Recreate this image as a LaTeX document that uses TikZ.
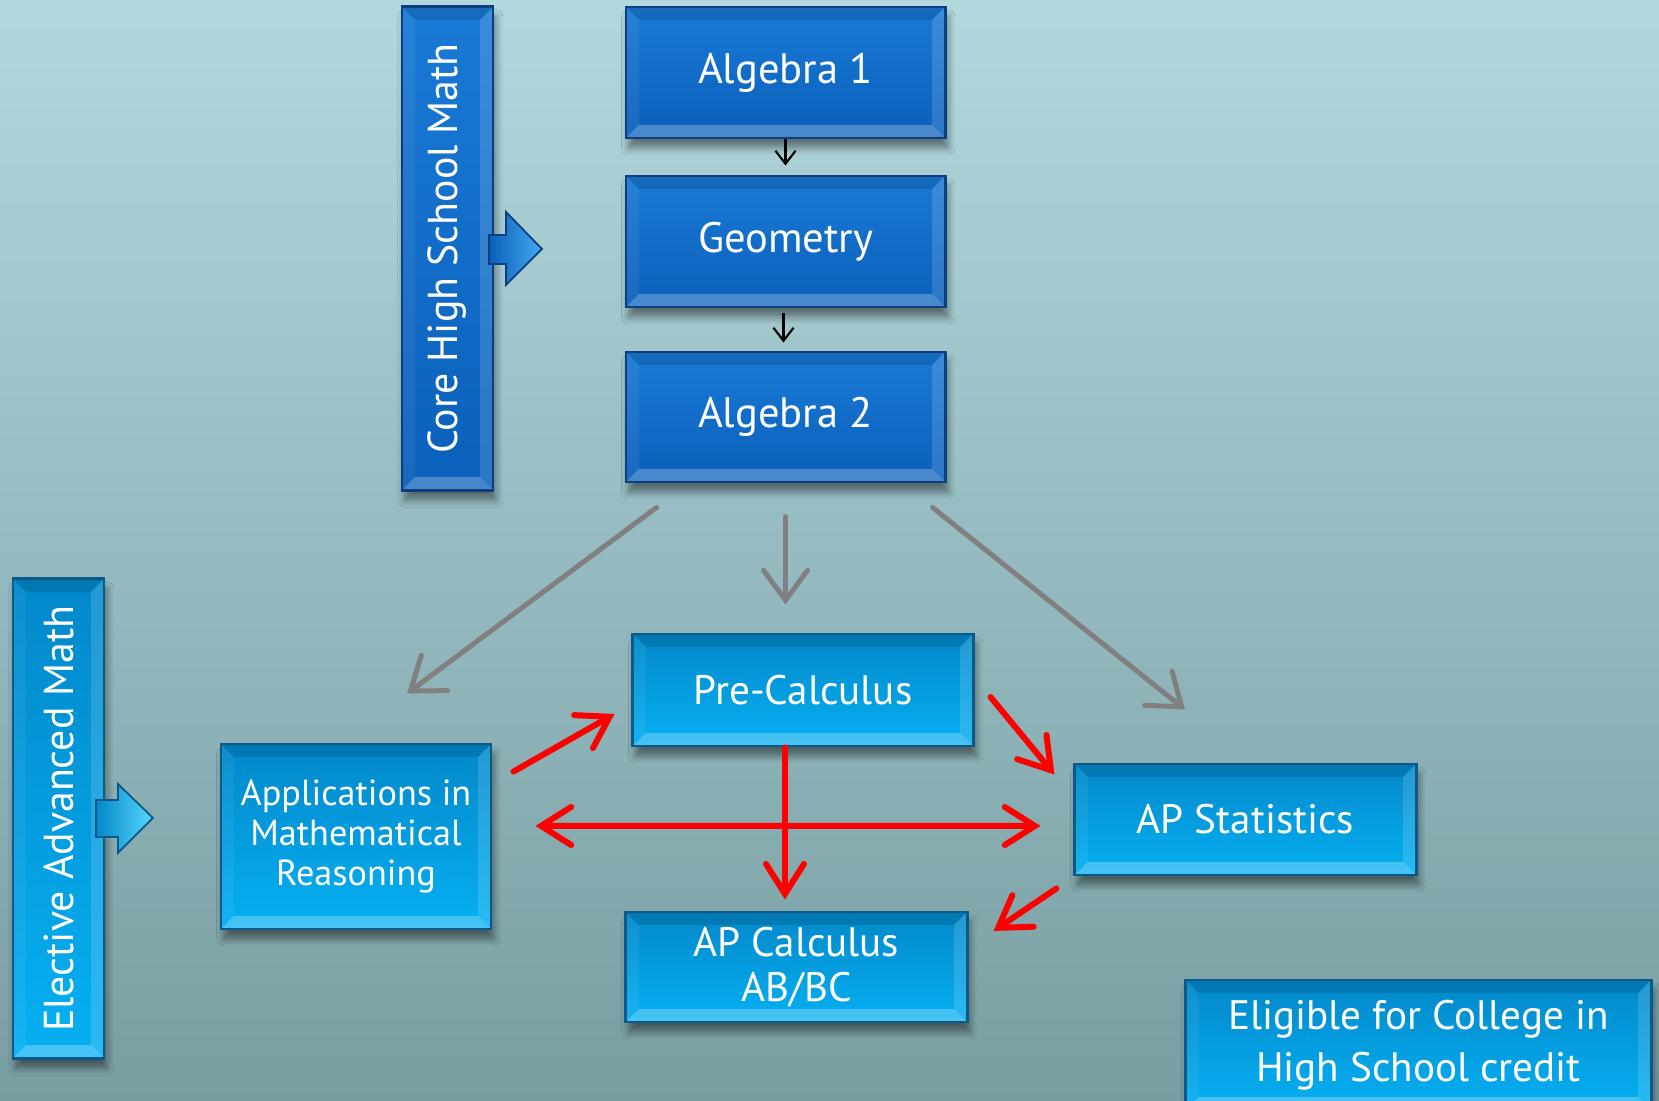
\documentclass[tikz,border=0pt]{standalone}
\usepackage{fontspec}
\setmainfont{PT Sans}
\usetikzlibrary{arrows.meta,shadows.blur,calc}
\definecolor{bgtop}{RGB}{178,216,222}
\definecolor{bgbot}{RGB}{121,158,162}
\definecolor{dkface}{RGB}{26,122,214}
\definecolor{dkfacelow}{RGB}{10,96,186}
\definecolor{dkedge}{RGB}{14,62,128}
\definecolor{dktip}{RGB}{70,170,240}
\definecolor{ltface}{RGB}{2,136,202}
\definecolor{ltfacelow}{RGB}{6,176,242}
\definecolor{ltedge}{RGB}{12,88,136}
\definecolor{lttip}{RGB}{90,215,252}
\definecolor{greyline}{RGB}{128,128,128}
\tikzset{
  bevel/.style={path picture={
    \path (path picture bounding box.north west) coordinate (bnw)
          (path picture bounding box.south east) coordinate (bse);
    \path ($(bnw)+(#1,-#1)$) coordinate (inw) ($(bse)+(-#1,#1)$) coordinate (ise);
    \fill[black,opacity=.12] (bnw) -- (bnw -| bse) -- (inw -| ise) -- (inw) -- cycle;
    \fill[white,opacity=.06] (bnw) -- (inw) -- (ise -| inw) -- (bse -| bnw) -- cycle;
    \fill[white,opacity=.14] (bnw -| bse) -- (bse) -- (ise) -- (inw -| ise) -- cycle;
    \fill[white,opacity=.25] (bse -| bnw) -- (bse) -- (ise) -- (ise -| inw) -- cycle;
  }},
  shade box/.style={blur shadow={shadow xshift=0.8pt,shadow yshift=-2.8pt,shadow opacity=45,shadow blur steps=6},
    text=white, align=center, inner sep=0pt, line width=0.8pt, bevel=0.13cm},
  darkbox/.style={shade box, draw=dkedge, top color=dkface, bottom color=dkfacelow},
  lightbox/.style={shade box, draw=ltedge, top color=ltface, bottom color=ltfacelow},
  topfont/.style={font=\fontsize{12.1}{14}\selectfont},
  sidefont/.style={font=\fontsize{11.9}{14}\selectfont},
  lowfont/.style={font=\fontsize{11.7}{12.9}\selectfont},
  applfont/.style={font=\fontsize{10.3}{11.5}\selectfont},
  bigfont/.style={font=\fontsize{11.7}{14.8}\selectfont},
  thin arrow/.style={line width=0.6pt, -{Straight Barb[length=0.13cm,width=0.2cm]}},
  grey arrow/.style={greyline, line width=0.05cm, line cap=round, -{Straight Barb[length=0.3cm,width=0.44cm,line cap=round]}},
  red arrow/.style={red, line width=0.06cm, line cap=round, -{Straight Barb[length=0.3cm,width=0.38cm,line cap=round]}},
  red double/.style={red, line width=0.06cm, line cap=round, {Straight Barb[length=0.3cm,width=0.38cm,line cap=round]}-{Straight Barb[length=0.3cm,width=0.38cm,line cap=round]}}
}
\begin{document}
\begin{tikzpicture}[x=0.01cm,y=-0.01cm]
  \useasboundingbox (0,0) rectangle (1659,1101);
  \clip (0,0) rectangle (1659,1101);
  \shade[top color=bgtop, bottom color=bgbot] (0,0) rectangle (1659,1101);

  \node[darkbox, sidefont, minimum width=0.91cm, minimum height=4.83cm] (core) at (447.5,248.5) {\rotatebox{90}{Core High School Math}};
  \shade[left color=dkfacelow, right color=dktip, draw=dkedge, line width=0.5pt]
    (489,235) -- (506,235) -- (506,212) -- (542,249) -- (506,285) -- (506,264) -- (489,264) -- cycle;

  \node[darkbox, topfont, minimum width=3.19cm, minimum height=1.31cm] (alg1) at (785.5,72.5) {Algebra 1};
  \node[darkbox, topfont, minimum width=3.19cm, minimum height=1.31cm] (geom) at (785.5,241.5) {Geometry};
  \node[darkbox, topfont, minimum width=3.19cm, minimum height=1.30cm] (alg2) at (785.5,417) {Algebra 2};

  \draw[thin arrow, shorten >=0.09cm] (alg1.south) -- (alg1.south |- geom.north);
  \draw[thin arrow, shorten <=0.05cm, shorten >=0.08cm] ([xshift=-0.02cm]geom.south) -- ([xshift=-0.02cm]geom.south |- alg2.north);

  \node[lightbox, sidefont, minimum width=0.91cm, minimum height=4.79cm] (elect) at (58.5,818.5) {\rotatebox{90}{Elective Advanced Math}};
  \shade[left color=ltface, right color=lttip, draw=ltedge, line width=0.5pt]
    (96,800) -- (118,800) -- (118,784) -- (153,818) -- (118,853) -- (118,837) -- (96,837) -- cycle;

  \node[lightbox, applfont, minimum width=2.70cm, minimum height=1.85cm] (appl) at (356,836.5) {Applications in\\Mathematical\\Reasoning};
  \node[lightbox, lowfont, minimum width=3.40cm, minimum height=1.12cm] (precalc) at (803,690) {Pre-Calculus};
  \node[lightbox, lowfont, minimum width=3.41cm, minimum height=1.11cm] (apstat) at (1245.5,819.5) {AP Statistics};
  \node[lightbox, lowfont, minimum width=3.41cm, minimum height=1.10cm] (apcalc) at (796.5,967) {AP Calculus\\AB/BC};
  \node[lightbox, bigfont, minimum width=4.65cm, minimum height=1.30cm] (college) at (1418.5,1045) {Eligible for College in\\High School credit};

  \draw[grey arrow] ([xshift=0.32cm,yshift=-0.24cm]alg2.south west) -- ([xshift=0.51cm,yshift=0.49cm]appl.north);
  \draw[grey arrow, shorten <=0.33cm, shorten >=0.28cm] (alg2.south) -- (alg2.south |- precalc.north);
  \draw[grey arrow] ([xshift=-0.14cm,yshift=-0.24cm]alg2.south east) -- ([xshift=-0.605cm,yshift=0.53cm]apstat.north);

  \draw[red arrow] ([xshift=0.21cm,yshift=-0.29cm]appl.north east) -- ([xshift=-0.17cm,yshift=-0.24cm]precalc.west);
  \draw[red double] ([xshift=0.43cm,yshift=0.105cm]appl.east) -- ([xshift=-0.33cm,yshift=-0.065cm]apstat.west);
  \draw[red arrow] ([xshift=-0.18cm]precalc.south) -- ([xshift=-0.18cm,yshift=0.11cm]precalc.south |- apcalc.north);
  \draw[red arrow] ([xshift=0.16cm,yshift=-0.07cm]precalc.east) -- ([xshift=-0.19cm,yshift=-0.12cm]apstat.north west);
  \draw[red arrow] ([xshift=-0.17cm,yshift=-0.12cm]apstat.south west) -- ([xshift=0.25cm,yshift=0.36cm]apcalc.east);
\end{tikzpicture}
\end{document}
